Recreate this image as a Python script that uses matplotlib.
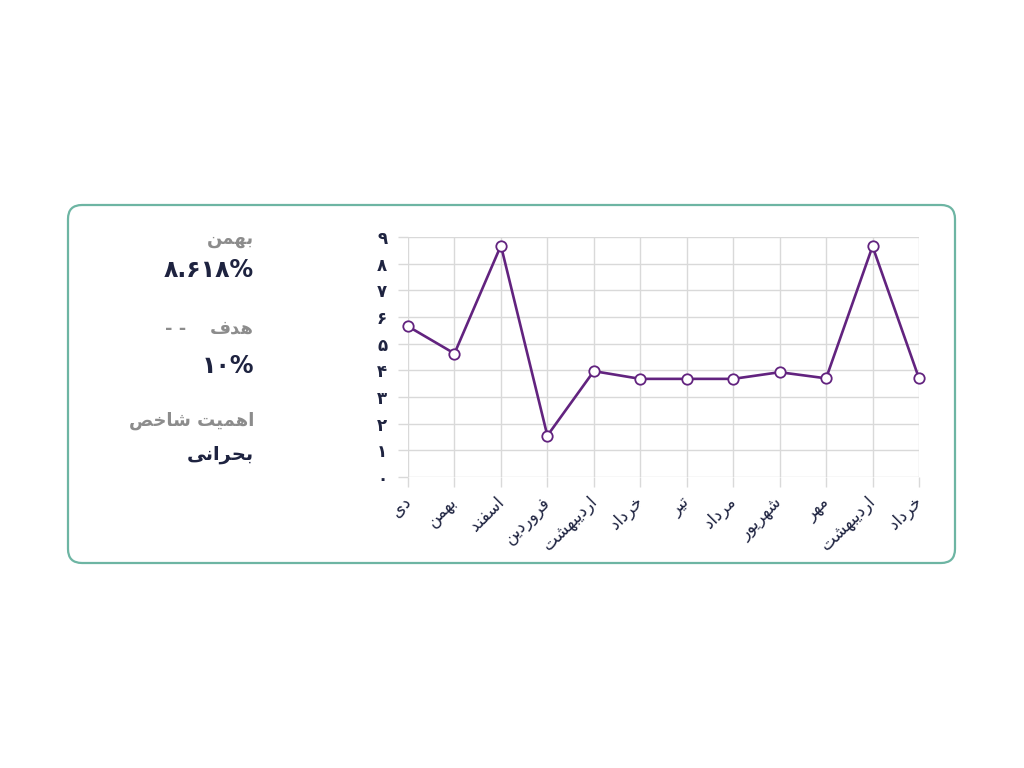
import matplotlib
matplotlib.use("Agg")
import matplotlib.pyplot as plt
from matplotlib.patches import FancyBboxPatch

# ---------------- data ----------------
months = ["دی", "بهمن", "اسفند", "فروردین", "اردیبهشت", "خرداد",
          "تیر", "مرداد", "شهریور", "مهر", "اردیبهشت", "خرداد"]
values = [5.65, 4.63, 8.68, 1.55, 3.97, 3.68, 3.68, 3.68, 3.93, 3.70, 8.65, 3.70]
y_ticks = [0, 1, 2, 3, 4, 5, 6, 7, 8, 9]

current_label = "بهمن"
current_value = "8.618%"
target_label = "هدف"
target_value = "10%"
importance_label = "اهمیت شاخص"
importance_value = "بحرانی"

# ---------------- simple Persian shaping ----------------
FORMS = {  # isolated, final, initial, medial
    "ا": ("\uFE8D", "\uFE8E", None, None),
    "ب": ("\uFE8F", "\uFE90", "\uFE91", "\uFE92"),
    "ت": ("\uFE95", "\uFE96", "\uFE97", "\uFE98"),
    "ح": ("\uFEA1", "\uFEA2", "\uFEA3", "\uFEA4"),
    "خ": ("\uFEA5", "\uFEA6", "\uFEA7", "\uFEA8"),
    "د": ("\uFEA9", "\uFEAA", None, None),
    "ر": ("\uFEAD", "\uFEAE", None, None),
    "س": ("\uFEB1", "\uFEB2", "\uFEB3", "\uFEB4"),
    "ش": ("\uFEB5", "\uFEB6", "\uFEB7", "\uFEB8"),
    "ص": ("\uFEB9", "\uFEBA", "\uFEBB", "\uFEBC"),
    "ف": ("\uFED1", "\uFED2", "\uFED3", "\uFED4"),
    "م": ("\uFEE1", "\uFEE2", "\uFEE3", "\uFEE4"),
    "ن": ("\uFEE5", "\uFEE6", "\uFEE7", "\uFEE8"),
    "ه": ("\uFEE9", "\uFEEA", "\uFEEB", "\uFEEC"),
    "و": ("\uFEED", "\uFEEE", None, None),
    "ی": ("\uFEEF", "\uFEF0", "\uFEF3", "\uFEF4"),
}
DIGITS = str.maketrans("0123456789", "۰۱۲۳۴۵۶۷۸۹")


def joins_next(ch):
    f = FORMS.get(ch)
    return f is not None and f[2] is not None


def shape_word(w):
    out = []
    n = len(w)
    for i, ch in enumerate(w):
        f = FORMS.get(ch)
        if f is None:
            out.append(ch)
            continue
        prev_j = i > 0 and joins_next(w[i - 1])
        next_j = i < n - 1 and w[i + 1] in FORMS and f[2] is not None
        if prev_j and next_j:
            g = f[3]
        elif prev_j:
            g = f[1]
        elif next_j:
            g = f[2]
        else:
            g = f[0]
        out.append(g)
    return "".join(out)


def fa(text):
    words = text.split(" ")
    shaped = [shape_word(w)[::-1] for w in words]
    return " ".join(shaped[::-1])


def fa_num(text):
    return text.translate(DIGITS)


plt.rcParams["font.family"] = ["DejaVu Sans"]

DARK = "#1e2340"
GRAY = "#8c8c8c"
PURPLE = "#62237f"
GRID = "#d9d9d9"

fig = plt.figure(figsize=(10.24, 7.68), dpi=100)

# background axes in pixel units for the card
bg = fig.add_axes([0, 0, 1, 1])
bg.set_xlim(0, 1024)
bg.set_ylim(768, 0)
bg.axis("off")
card = FancyBboxPatch((68, 205), 887, 358,
                      boxstyle="round,pad=0,rounding_size=14",
                      facecolor="white", edgecolor="#6db5a3", linewidth=1.6)
bg.add_patch(card)

# left info text
bg.text(254, 239, fa(current_label), ha="right", va="center",
        fontsize=13, color=GRAY, fontweight="bold")
bg.text(254, 270, fa_num(current_value), ha="right", va="center",
        fontsize=17, color=DARK, fontweight="bold")
bg.text(254, 329, fa(target_label), ha="right", va="center",
        fontsize=13, color=GRAY, fontweight="bold")
bg.text(176, 329, "- -", ha="center", va="center",
        fontsize=13, color=GRAY, fontweight="bold")
bg.text(254, 366, fa_num(target_value), ha="right", va="center",
        fontsize=17, color=DARK, fontweight="bold")
bg.text(254, 421, fa(importance_label), ha="right", va="center",
        fontsize=13, color=GRAY, fontweight="bold")
bg.text(254, 455, fa(importance_value), ha="right", va="center",
        fontsize=14, color=DARK, fontweight="bold")

# chart axes
ax = fig.add_axes([408 / 1024, 1 - 477 / 768, (919 - 408) / 1024, (477 - 237) / 768])
x = list(range(len(months)))
ax.plot(x, values, color=PURPLE, linewidth=1.9, marker="o", markersize=7.5,
        markerfacecolor="white", markeredgecolor=PURPLE, markeredgewidth=1.3,
        clip_on=False, zorder=3)
ax.set_xlim(0, len(months) - 1)
ax.set_ylim(0, 9)
ax.set_yticks(y_ticks)
ax.set_yticklabels([fa_num(str(t)) for t in y_ticks], color=DARK, fontsize=12,
                   fontweight="bold")
ax.set_xticks(x)
ax.set_xticklabels([fa(m) for m in months], rotation=45, ha="right", va="center",
                   rotation_mode="anchor", color=DARK, fontsize=12)
ax.grid(True, color=GRID, linewidth=1)
ax.tick_params(axis="both", length=7, color=GRID, width=1)
ax.tick_params(axis="y", pad=8)
ax.tick_params(axis="x", pad=9)
for s in ax.spines.values():
    s.set_visible(False)
ax.set_facecolor("none")

fig.savefig("out.png", dpi=100)
